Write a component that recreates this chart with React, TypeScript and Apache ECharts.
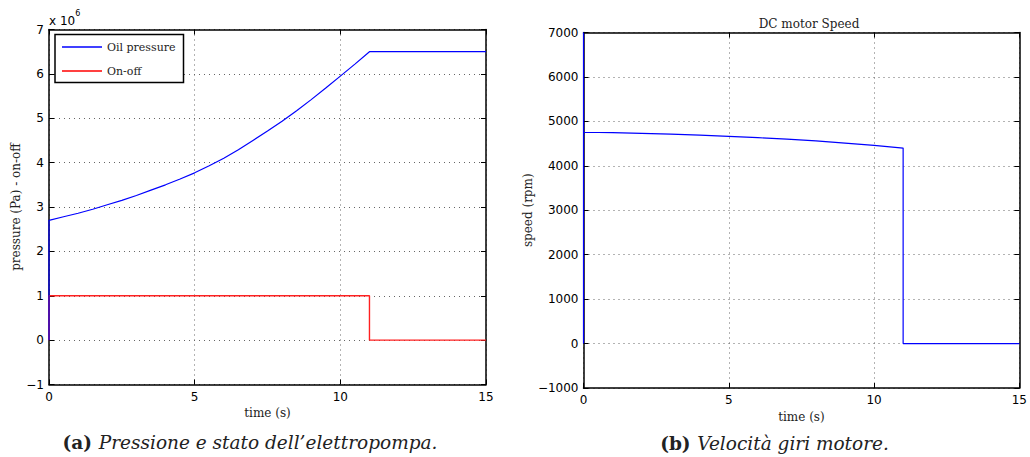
import React, { useEffect, useRef } from "react";
import * as echarts from "echarts";

// ---- data (left plot, pressure in units of 1e6 Pa) ----
const pressureTime = [0, 0, 0.5, 1, 1.5, 2, 2.5, 3, 3.5, 4, 4.5, 5, 5.5, 6, 6.5, 7, 7.5, 8, 8.5, 9, 9.5, 10, 10.5, 11, 15];
const oilPressure = [0, 2.7, 2.78, 2.86, 2.95, 3.05, 3.15, 3.26, 3.38, 3.5, 3.63, 3.77, 3.93, 4.1, 4.29, 4.5, 4.71, 4.93, 5.17, 5.42, 5.68, 5.95, 6.22, 6.5, 6.5];
const onOffTime = [0, 0, 11, 11, 15];
const onOffState = [0, 1, 1, 0, 0];

// ---- data (right plot, rpm) ----
const speedTime = [0, 0, 0, 1, 2, 3, 4, 5, 6, 7, 8, 9, 10, 11, 11, 15];
const motorSpeed = [0, 7000, 4755, 4745, 4730, 4712, 4690, 4663, 4633, 4600, 4563, 4512, 4460, 4400, 0, 0];

// ---- axes ----
const timeMin = 0;
const timeMax = 15;
const timeStep = 5;
const pressureMin = -1;
const pressureMax = 7;
const pressureStep = 1;
const speedMin = -1000;
const speedMax = 7000;
const speedStep = 1000;

const seriesNames = ["Oil pressure", "On-off"];
const SERIF = "DejaVu Serif";
const SANS = "DejaVu Sans";

const fmtMinus = (v: number) => String(v).replace("-", "\u2212");

function xAxes(grid: number) {
  const base = {
    gridIndex: grid,
    type: "value" as const,
    min: timeMin,
    max: timeMax,
    interval: timeStep,
    axisLine: { show: true, onZero: false, lineStyle: { color: "#000", width: 1.5 } },
    axisTick: { show: true, inside: true, length: 5, lineStyle: { color: "#000", width: 1 } },
  };
  return [
    {
      ...base,
      position: "bottom" as const,
      axisLabel: { color: "#000", fontFamily: SANS, fontSize: 12, margin: 6 },
      splitLine: { show: true, lineStyle: { color: "#666", type: [1, 4], width: 1 } },
      name: "time (s)",
      nameLocation: "middle" as const,
      nameGap: 22,
      nameTextStyle: { fontFamily: SERIF, fontSize: 12, color: "#222" },
    },
    {
      ...base,
      position: "top" as const,
      axisLabel: { show: false },
      splitLine: { show: false },
    },
  ];
}

function yAxes(grid: number, min: number, max: number, step: number, name: string, gap: number) {
  const base = {
    gridIndex: grid,
    type: "value" as const,
    min,
    max,
    interval: step,
    axisLine: { show: true, onZero: false, lineStyle: { color: "#000", width: 1.5 } },
    axisTick: { show: true, inside: true, length: 5, lineStyle: { color: "#000", width: 1 } },
  };
  return [
    {
      ...base,
      position: "left" as const,
      axisLabel: { color: "#000", fontFamily: SANS, fontSize: 12, margin: 5, formatter: fmtMinus },
      splitLine: { show: true, lineStyle: { color: "#666", type: [1, 4], width: 1 } },
      name,
      nameLocation: "middle" as const,
      nameGap: gap,
      nameTextStyle: { fontFamily: SERIF, fontSize: 12, color: "#222" },
    },
    {
      ...base,
      position: "right" as const,
      axisLabel: { show: false },
      splitLine: { show: false },
    },
  ];
}

export default function App() {
  const ref = useRef<HTMLDivElement>(null);

  useEffect(() => {
    if (!ref.current) return;
    const chart = echarts.init(ref.current, null, { renderer: "svg" });

    const option: any = {
      animation: false,
      backgroundColor: "#fff",
      title: [
        {
          text: "DC motor Speed",
          left: 804,
          top: 13,
          textAlign: "center",
          textStyle: { fontFamily: SERIF, fontSize: 12, fontWeight: "normal", color: "#222" },
        },
      ],
      grid: [
        { left: 49, top: 29.5, width: 437, height: 355, containLabel: false },
        { left: 583.5, top: 32.5, width: 440.5, height: 355.5, containLabel: false },
      ],
      xAxis: [...xAxes(0), ...xAxes(1)],
      yAxis: [
        ...yAxes(0, pressureMin, pressureMax, pressureStep, "pressure (Pa) - on-off", 24),
        ...yAxes(1, speedMin, speedMax, speedStep, "speed (rpm)", 35),
      ],
      legend: {
        data: seriesNames,
        orient: "vertical",
        left: 55,
        top: 34.5,
        icon: "rect",
        itemWidth: 40,
        itemHeight: 1.5,
        itemGap: 13,
        padding: [7, 8, 6, 7],
        borderColor: "#000",
        borderWidth: 1.5,
        backgroundColor: "#fff",
        z: 10,
        textStyle: { fontFamily: SERIF, fontSize: 11, color: "#222" },
      },
      series: [
        {
          name: seriesNames[0],
          type: "line",
          xAxisIndex: 0,
          yAxisIndex: 0,
          showSymbol: false,
          symbol: "none",
          color: "#0000ff",
          lineStyle: { color: "#0000ff", width: 1.2 },
          data: pressureTime.map((t, i) => [t, oilPressure[i]]),
          z: 3,
        },
        {
          name: seriesNames[1],
          type: "line",
          xAxisIndex: 0,
          yAxisIndex: 0,
          showSymbol: false,
          symbol: "none",
          color: "#ff0000",
          lineStyle: { color: "#ff2020", width: 1.4 },
          data: onOffTime.map((t, i) => [t, onOffState[i]]),
          z: 2,
        },
        {
          name: "Speed",
          type: "line",
          xAxisIndex: 2,
          yAxisIndex: 2,
          showSymbol: false,
          symbol: "none",
          color: "#0000ff",
          lineStyle: { color: "#0000ff", width: 1.2 },
          data: speedTime.map((t, i) => [t, motorSpeed[i]]),
        },
      ],
      graphic: [
        {
          type: "text",
          left: 49,
          top: 9,
          style: {
            text: "{b|x 10}{s|6}",
            rich: {
              b: { fontFamily: SANS, fontSize: 12, fill: "#000", padding: [6, 0, 0, 0] },
              s: { fontFamily: SANS, fontSize: 8, fill: "#000", verticalAlign: "top" },
            },
          },
        },
        {
          type: "text",
          x: 250,
          y: 442,
          style: {
            text: "{b|(a)}  {i|Pressione e stato dell\u2019elettropompa.}",
            align: "center",
            verticalAlign: "middle",
            rich: {
              b: { fontFamily: SERIF, fontSize: 18.5, fontWeight: "bold", fill: "#222" },
              i: { fontFamily: SERIF, fontSize: 18.5, fontStyle: "italic", fill: "#222" },
            },
          },
        },
        {
          type: "text",
          x: 774.5,
          y: 443,
          style: {
            text: "{b|(b)}  {i|Velocit\u00e0 giri motore.}",
            align: "center",
            verticalAlign: "middle",
            rich: {
              b: { fontFamily: SERIF, fontSize: 18.5, fontWeight: "bold", fill: "#222" },
              i: { fontFamily: SERIF, fontSize: 18.5, fontStyle: "italic", fill: "#222" },
            },
          },
        },
      ],
    };

    chart.setOption(option);
    return () => chart.dispose();
  }, []);

  return (
    <div
      ref={ref}
      style={{ position: "absolute", left: 0, top: 0, width: 1030, height: 457, background: "#fff" }}
    />
  );
}
